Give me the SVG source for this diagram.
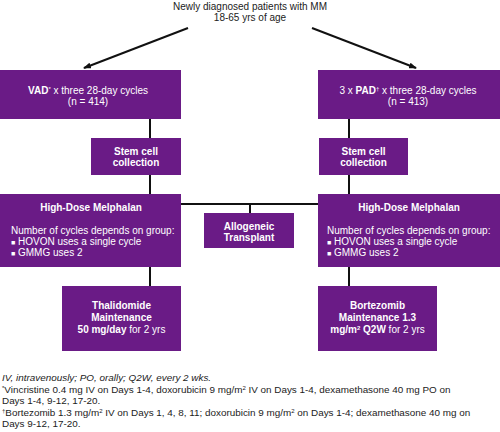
<svg xmlns="http://www.w3.org/2000/svg" width="500" height="432" viewBox="0 0 500 432">
<defs>
<marker id="arr" markerWidth="8" markerHeight="6" refX="7" refY="3" orient="auto" markerUnits="userSpaceOnUse">
<path d="M0,0 L8,3 L0,6 Z" fill="#111"/>
</marker>
<style>
.box{fill:#6a1b86;}
.t{font-family:"Liberation Sans",Arial,sans-serif;font-size:10px;fill:#fff;}
.c{text-anchor:middle;}
.b{font-weight:bold;}
.k{font-family:"Liberation Sans",Arial,sans-serif;font-size:10px;fill:#222;}
.f{font-family:"Liberation Sans",Arial,sans-serif;font-size:9.9px;fill:#222;}
.ln{stroke:#111;stroke-width:2;fill:none;}
</style>
</defs>
<rect width="500" height="432" fill="#fff"/>
<g id="start">
<text class="k c" x="250" y="10">Newly diagnosed patients with MM</text>
<text class="k c" x="250" y="21">18-65 yrs of age</text>
</g>
<g id="connectors">
<line class="ln" x1="188" y1="28" x2="84" y2="68" marker-end="url(#arr)"/>
<line class="ln" x1="312" y1="28" x2="416" y2="68" marker-end="url(#arr)"/>
<line class="ln" x1="150" y1="119" x2="150" y2="138"/>
<line class="ln" x1="150" y1="175" x2="150" y2="194"/>
<line class="ln" x1="349" y1="119" x2="349" y2="138"/>
<line class="ln" x1="349" y1="175" x2="349" y2="194"/>
<line class="ln" x1="181" y1="204" x2="318" y2="204"/>
<line class="ln" x1="250" y1="204" x2="250" y2="213"/>
<line class="ln" x1="150" y1="267" x2="150" y2="286"/>
<line class="ln" x1="349" y1="267" x2="349" y2="286"/>
</g>
<g id="vad">
<rect class="box" x="0" y="70" width="181" height="49"/>
<text class="t c" x="88" y="94"><tspan class="b">VAD</tspan><tspan font-size="6" dy="-3">*</tspan><tspan dy="3"> x three 28-day cycles</tspan></text>
<text class="t c" x="88" y="105">(n = 414)</text>
</g>
<g id="pad">
<rect class="box" x="318" y="70" width="182" height="49"/>
<text class="t c" x="408" y="94">3 x <tspan class="b">PAD</tspan><tspan font-size="6" dy="-3">†</tspan><tspan dy="3"> x three 28-day cycles</tspan></text>
<text class="t c" x="408" y="105">(n = 413)</text>
</g>
<g id="stem-left">
<rect class="box" x="91" y="138" width="90" height="37"/>
<text class="t c b" x="136" y="155">Stem cell</text>
<text class="t c b" x="136" y="166">collection</text>
</g>
<g id="stem-right">
<rect class="box" x="319" y="138" width="89" height="37"/>
<text class="t c b" x="363.5" y="155">Stem cell</text>
<text class="t c b" x="363.5" y="166">collection</text>
</g>
<g id="hdm-left">
<rect class="box" x="0" y="194" width="181" height="73"/>
<text class="t c b" x="91" y="211">High-Dose Melphalan</text>
<text class="t" x="11" y="234">Number of cycles depends on group:</text>
<text class="t" x="11" y="245"><tspan font-size="7">■</tspan> HOVON uses a single cycle</text>
<text class="t" x="11" y="256"><tspan font-size="7">■</tspan> GMMG uses 2</text>
</g>
<g id="hdm-right">
<rect class="box" x="318" y="194" width="182" height="73"/>
<text class="t c b" x="409" y="211">High-Dose Melphalan</text>
<text class="t" x="327" y="234">Number of cycles depends on group:</text>
<text class="t" x="327" y="245"><tspan font-size="7">■</tspan> HOVON uses a single cycle</text>
<text class="t" x="327" y="256"><tspan font-size="7">■</tspan> GMMG uses 2</text>
</g>
<g id="allo">
<rect class="box" x="204" y="213" width="90" height="35"/>
<text class="t c b" x="249" y="229.5">Allogeneic</text>
<text class="t c b" x="249" y="240.5">Transplant</text>
</g>
<g id="thal">
<rect class="box" x="62" y="286" width="119" height="65"/>
<text class="t c b" x="121.5" y="309">Thalidomide</text>
<text class="t c b" x="121.5" y="321">Maintenance</text>
<text class="t c" x="121.5" y="333"><tspan class="b">50 mg/day</tspan> for 2 yrs</text>
</g>
<g id="bort">
<rect class="box" x="318" y="286" width="119" height="65"/>
<text class="t c b" x="377.5" y="309">Bortezomib</text>
<text class="t c b" x="377.5" y="321">Maintenance 1.3</text>
<text class="t c" x="377.5" y="333"><tspan class="b">mg/m<tspan font-size="6" dy="-3">2</tspan><tspan dy="3"> Q2W</tspan></tspan> for 2 yrs</text>
</g>
<g id="footnotes">
<text class="f" x="2" y="381" font-style="italic">IV, intravenously; PO, orally; Q2W, every 2 wks.</text>
<text class="f" x="2" y="392.5"><tspan font-size="6" dy="-3">*</tspan><tspan dy="3">Vincristine 0.4 mg IV on Days 1-4, doxorubicin 9 mg/m</tspan><tspan font-size="6" dy="-3">2</tspan><tspan dy="3"> IV on Days 1-4, dexamethasone 40 mg PO on</tspan></text>
<text class="f" x="2" y="404">Days 1-4, 9-12, 17-20.</text>
<text class="f" x="2" y="415.5"><tspan font-size="6" dy="-3">†</tspan><tspan dy="3">Bortezomib 1.3 mg/m</tspan><tspan font-size="6" dy="-3">2</tspan><tspan dy="3"> IV on Days 1, 4, 8, 11; doxorubicin 9 mg/m</tspan><tspan font-size="6" dy="-3">2</tspan><tspan dy="3"> on Days 1-4; dexamethasone 40 mg on</tspan></text>
<text class="f" x="2" y="427">Days 9-12, 17-20.</text>
</g>
</svg>
